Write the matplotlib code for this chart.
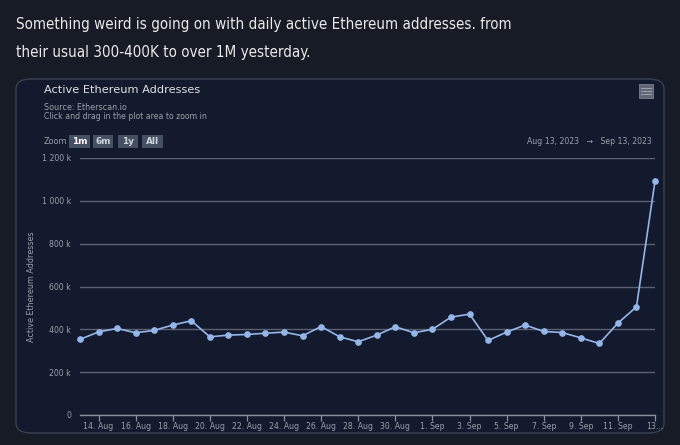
import matplotlib.pyplot as plt
from matplotlib import font_manager
from matplotlib.patches import FancyBboxPatch, Rectangle

# daily active addresses, 13 Aug 2023 .. 13 Sep 2023
values = [353, 388, 404, 384, 395, 420, 440, 365, 373, 376, 382, 387, 370, 413,
          365, 342, 373, 412, 384, 400, 457, 471, 348, 387, 420, 390, 385, 360,
          334, 429, 505, 1092]
values = [v * 1000 for v in values]
tick_pos = [1, 3, 5, 7, 9, 11, 13, 15, 17, 19, 21, 23, 25, 27, 29, 31]
tick_labels = ['14. Aug', '16. Aug', '18. Aug', '20. Aug', '22. Aug', '24. Aug',
               '26. Aug', '28. Aug', '30. Aug', '1. Sep', '3. Sep', '5. Sep',
               '7. Sep', '9. Sep', '11. Sep', '13...']
y_ticks = [0, 200000, 400000, 600000, 800000, 1000000, 1200000]
y_labels = ['0', '200 k', '400 k', '600 k', '800 k', '1 000 k', '1 200 k']

W, H = 680, 445
bg = '#171b25'
panel = '#131a2d'
grey = '#9aa0ab'
line_c = '#94b6e8'

fig = plt.figure(figsize=(W / 100, H / 100), dpi=100, facecolor=bg)

def fx(px):
    return px / W

def fy(py):
    return 1 - py / H

# tweet text: narrow font if the system has one
cond = font_manager.findfont(font_manager.FontProperties(family='DejaVu Sans', stretch='condensed'))
if 'Condensed' in cond:
    tweet_kw = dict(family='DejaVu Sans', stretch='condensed', fontsize=10.9)
else:
    tweet_kw = dict(family='Roboto', fontsize=10.9)
fig.text(fx(16), fy(25), 'Something weird is going on with daily active Ethereum addresses. from',
         color='#e7e9ea', va='center', ha='left', **tweet_kw)
fig.text(fx(16), fy(52), 'their usual 300-400K to over 1M yesterday.',
         color='#e7e9ea', va='center', ha='left', **tweet_kw)

# rounded chart panel
fig.patches.append(FancyBboxPatch((fx(16), fy(433)), fx(648), 354 / H,
                                  boxstyle='round,pad=0,rounding_size=0.022',
                                  transform=fig.transFigure, facecolor=panel,
                                  edgecolor='#3b4150', lw=1.0, zorder=0))

fig.text(fx(44), fy(90), 'Active Ethereum Addresses', color='#e0e0e3', fontsize=8.2,
         va='center', ha='left')
fig.text(fx(44), fy(108), 'Source: Etherscan.io', color='#9aa0ab', fontsize=5.8,
         va='center', ha='left')
fig.text(fx(44), fy(117), 'Click and drag in the plot area to zoom in', color='#9aa0ab',
         fontsize=5.6, va='center', ha='left')

# zoom buttons
fig.text(fx(44), fy(141), 'Zoom', color='#9aa0ab', fontsize=5.8, va='center', ha='left')
buttons = [('1m', 69, 21), ('6m', 93, 20), ('1y', 118, 20), ('All', 142, 21)]
for lab, x0, w in buttons:
    fig.patches.append(Rectangle((fx(x0), fy(147.5)), fx(w), 12.5 / H,
                                 transform=fig.transFigure, facecolor='#465064',
                                 edgecolor='none', zorder=1))
    fig.text(fx(x0 + w / 2), fy(141.5), lab, color='white' if lab == '1m' else '#d0d4da',
             fontsize=6.4, fontweight='bold', va='center', ha='center', zorder=2)

fig.text(fx(652), fy(141), 'Aug 13, 2023   \u2192   Sep 13, 2023', color='#9aa0ab',
         fontsize=5.6, va='center', ha='right')

# menu icon
fig.patches.append(Rectangle((fx(639), fy(98)), fx(14), 14 / H, transform=fig.transFigure,
                             facecolor='#5f6576', edgecolor='#7a8090', lw=0.6, zorder=1))
for yy in (88, 91, 94):
    fig.lines.append(plt.Line2D([fx(641), fx(651)], [fy(yy), fy(yy)], color='#9a9fab',
                                lw=0.8, transform=fig.transFigure, zorder=2))

ax = fig.add_axes([fx(80), fy(415), fx(655 - 80), (415 - 158) / H])
ax.set_zorder(5)
ax.set_facecolor('none')
x = list(range(len(values)))
ax.plot(x, values, color=line_c, lw=1.2, marker='o', markersize=3.8,
        markerfacecolor=line_c, markeredgecolor=line_c, zorder=3, clip_on=False)
ax.set_xlim(0, 31)
ax.set_ylim(0, 1200000)
ax.set_yticks(y_ticks)
ax.set_yticklabels(y_labels)
ax.set_xticks(tick_pos)
ax.set_xticklabels(tick_labels)
ax.grid(axis='y', color='#5c6070', lw=1.0)
ax.set_axisbelow(True)
for s in ('top', 'right', 'left'):
    ax.spines[s].set_visible(False)
ax.spines['bottom'].set_color('#8890a0')
ax.spines['bottom'].set_linewidth(1.0)
ax.tick_params(axis='y', length=0, pad=6.5, labelsize=5.6, labelcolor=grey)
ax.tick_params(axis='x', length=4, width=0.9, color='#8890a0', direction='out',
               pad=1, labelsize=5.6, labelcolor=grey)
ax.set_ylabel('Active Ethereum Addresses', color=grey, fontsize=5.8, labelpad=4)

fig.savefig('out.png', dpi=100, facecolor=bg)
